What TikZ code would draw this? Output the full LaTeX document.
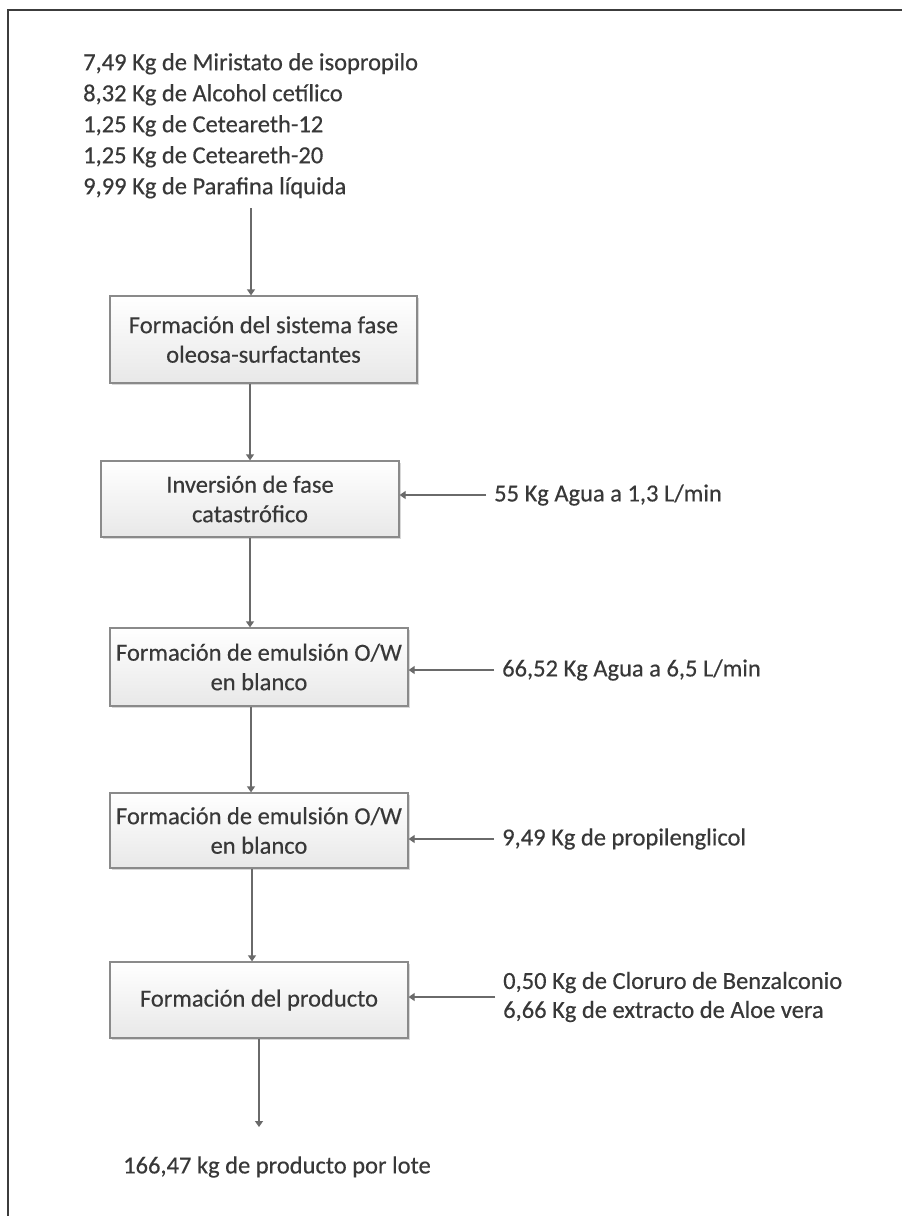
\documentclass[tikz,border=0pt]{standalone}
\usepackage{fontspec}
\setmainfont{Carlito}[UprightFeatures={FakeBold=0.4}]
\usetikzlibrary{arrows.meta,shadows}
\definecolor{txt}{HTML}{383838}
\definecolor{ln}{HTML}{6A6A6A}
\definecolor{bd}{HTML}{8A8A8A}
\definecolor{frame}{HTML}{3C3C3C}
\tikzset{
  fnt/.style={font=\fontsize{24.5pt}{#1}\selectfont, text=txt},
  box/.style={draw=bd, line width=1.3pt, top color=white, bottom color=black!9,
    drop shadow={shadow xshift=1.5pt, shadow yshift=-1.5pt, fill=black!30, opacity=0.5},
    align=center, inner sep=0pt, fnt=29.5pt},
  lbl/.style={fnt=29pt, align=left, anchor=west, inner xsep=8pt, inner ysep=0pt},
  arr/.style={draw=ln, line width=1.3pt, -{Triangle[length=6pt,width=8pt]}}
}
\begin{document}
\begin{tikzpicture}[x=1pt,y=-1pt]
\useasboundingbox (0,0) rectangle (902,1216);
\fill[white] (0,0) rectangle (902,1216);
% frame
\draw[frame, line width=2.2pt] (8,1220) -- (8,10) -- (906,10);

% inputs block
\node[fnt=31pt, align=left, anchor=north west, inner sep=0pt] (in) at (83,53)
  {7,49 Kg de Miristato de isopropilo\\
   8,32 Kg de Alcohol cetílico\\
   1,25 Kg de Ceteareth-12\\
   1,25 Kg de Ceteareth-20\\
   9,99 Kg de Parafina líquida};

% boxes
\node[box, minimum width=307pt, minimum height=87pt] (b1) at (263.5,339.5)
  {Formación del sistema fase\\oleosa-surfactantes};
\node[box, minimum width=298pt, minimum height=76pt] (b2) at (250,499)
  {Inversión de fase\\catastrófico};
\node[box, minimum width=298pt, minimum height=78pt] (b3) at (259,667)
  {Formación de emulsión O/W\\en blanco};
\node[box, minimum width=298pt, minimum height=75pt] (b4) at (259,830.5)
  {Formación de emulsión O/W\\en blanco};
\node[box, minimum width=298pt, minimum height=76pt] (b5) at (259,1000)
  {Formación del producto};

% side inputs
\node[lbl] (l2) at (486,495) {55 Kg Agua a 1,3 L/min};
\node[lbl] (l3) at (494,670) {66,52 Kg Agua a 6,5 L/min};
\node[lbl] (l4) at (494,839) {9,49 Kg de propilenglicol};
\node[lbl] (l5) at (495,997) {0,50 Kg de Cloruro de Benzalconio\\6,66 Kg de extracto de Aloe vera};

% output
\node[fnt=30pt, anchor=west, inner sep=0pt] (out) at (123,1167) {166,47 kg de producto por lote};

% helper coordinates
\coordinate (s1) at (251,208);
\coordinate (x12) at (250,0);
\coordinate (x23) at (250,0);
\coordinate (x34) at (251,0);
\coordinate (x45) at (252,0);
\coordinate (e5) at (259,1127);

% connectors
\draw[arr] (s1) -- (s1 |- b1.north);
\draw[arr] (b1.south -| x12) -- (b2.north -| x12);
\draw[arr] (b2.south -| x23) -- (b3.north -| x23);
\draw[arr] (b3.south -| x34) -- (b4.north -| x34);
\draw[arr] (b4.south -| x45) -- (b5.north -| x45);
\draw[arr] (b5.south -| e5) -- (e5);

\draw[arr] (l2.west) -- (l2.west -| b2.east);
\draw[arr] (l3.west) -- (l3.west -| b3.east);
\draw[arr] (l4.west) -- (l4.west -| b4.east);
\draw[arr] (l5.west) -- (l5.west -| b5.east);
\end{tikzpicture}
\end{document}
